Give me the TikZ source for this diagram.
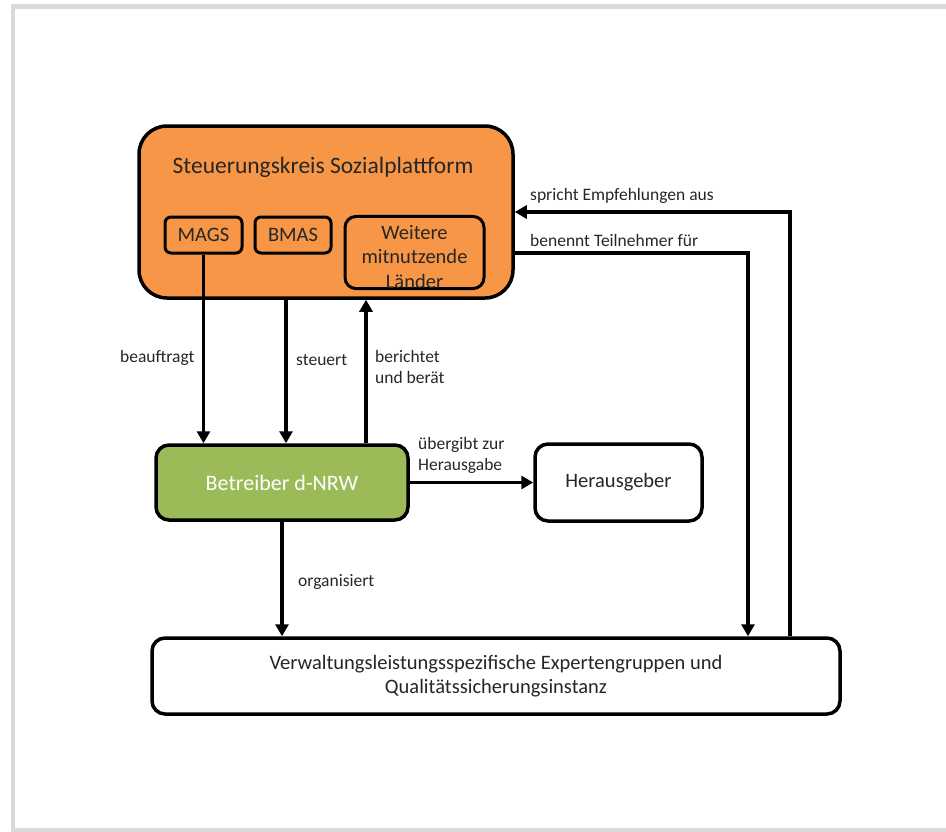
\documentclass[tikz,border=0pt]{standalone}
\usepackage{fontspec}
\setmainfont{Carlito}
\usetikzlibrary{arrows.meta}
\definecolor{orangefill}{HTML}{F79646}
\definecolor{greenfill}{HTML}{9BBB59}
\definecolor{framegray}{HTML}{D9D9D9}
\definecolor{txt}{HTML}{262626}
\begin{document}
\begin{tikzpicture}[x=1pt,y=-1pt,
  box/.style={draw=black, line width=3.5pt, rectangle, align=center, text=txt, inner sep=0pt},
  big/.style={font=\fontsize{20.5}{24.5}\selectfont},
  lbl/.style={font=\fontsize{17.5}{21.5}\selectfont, text=txt, inner sep=0pt, align=left},
  arr/.style={draw=black, line width=3.5pt, -{Triangle[length=12pt,width=13pt]}},
  ln/.style={draw=black, line width=3.5pt}
]
\useasboundingbox (0,0) rectangle (946,831);
\draw[framegray, line width=4.5pt] (13,6.5) rectangle (980,830);

% Orange steering box
\node[box, fill=orangefill, minimum width=374pt, minimum height=172pt, rounded corners=28pt] (orange) at (326,212) {};
\node[text=txt, inner sep=0pt, font=\fontsize{23.5}{28}\selectfont] (title) at (323,167) {Steuerungskreis Sozialplattform};
\node[box, big, line width=3pt, fill=orangefill, minimum width=77pt, minimum height=36pt, rounded corners=6pt] (mags) at (203.5,235) {MAGS};
\node[box, big, line width=3pt, fill=orangefill, minimum width=76pt, minimum height=36pt, rounded corners=6pt] (bmas) at (293,235) {BMAS};
\node[box, big, line width=3pt, fill=orangefill, minimum width=139pt, minimum height=71pt, rounded corners=11pt] (weit) at (414.5,252.5) {\rule{0pt}{23pt}Weitere\\mitnutzende\\Länder};

% Operator
\node[box, fill=greenfill, text=white, minimum width=252pt, minimum height=75pt, rounded corners=13pt, font=\fontsize{22}{26}\selectfont] (betr) at (282,482.5) {Betreiber d-NRW};
\node[box, big, fill=white, minimum width=167pt, minimum height=77pt, rounded corners=13pt] (herg) at (618.5,482.5) {Herausgeber};

% Bottom box
\node[box, big, fill=white, minimum width=688pt, minimum height=76pt, rounded corners=13pt] (bot) at (496,676) {Verwaltungsleistungsspezifische Expertengruppen und\\Qualitätssicherungsinstanz};

% helper coordinates
\coordinate (st) at ([xshift=4pt]betr.north);
\coordinate (be) at ([xshift=84pt]betr.north);
\coordinate (sp) at ([xshift=294pt]bot.north);
\coordinate (bnend) at ([xshift=252pt]bot.north);
\coordinate (bn) at ([yshift=-41pt]orange.east);

% connectors
\draw[arr] (mags.south) -- (mags.south |- betr.north);
\draw[arr] (st |- orange.south) -- (st);
\draw[arr] (be) -- (be |- orange.south);
\draw[arr] (betr.east) -- (herg.west);
\draw[arr] (betr.south) -- (betr.south |- bot.north);
\draw[arr] (sp) |- (orange.east);
\draw[arr] (bn) -| (bnend);

% labels
\node[lbl, anchor=west] (l1) at (120,358) {beauftragt};
\node[lbl, anchor=west] (l2) at (296,360) {steuert};
\node[lbl, anchor=north west] (l3) at (375,350) {berichtet\\und berät};
\node[lbl, anchor=north west] (l4) at (418,437) {übergibt zur\\Herausgabe};
\node[lbl, anchor=west] (l5) at (298,582) {organisiert};
\node[lbl, anchor=west] (l6) at (530,196) {spricht Empfehlungen aus};
\node[lbl, anchor=west] (l7) at (530,240) {benennt Teilnehmer für};
\end{tikzpicture}
\end{document}
